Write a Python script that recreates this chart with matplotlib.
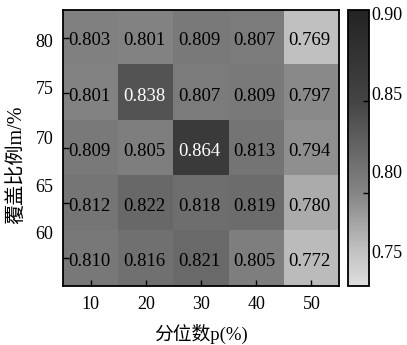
import numpy as np
import matplotlib
matplotlib.use('Agg')
import matplotlib.pyplot as plt
from matplotlib.colors import LinearSegmentedColormap
from matplotlib.transforms import ScaledTranslation

plt.rcParams['font.family'] = ['Liberation Serif', 'Noto Sans CJK SC']

p_labels = ['10', '20', '30', '40', '50']
m_labels = ['80', '75', '70', '65', '60']
row_80 = [0.803, 0.801, 0.809, 0.807, 0.769]
row_75 = [0.801, 0.838, 0.807, 0.809, 0.797]
row_70 = [0.809, 0.805, 0.864, 0.813, 0.794]
row_65 = [0.812, 0.822, 0.818, 0.819, 0.780]
row_60 = [0.810, 0.816, 0.821, 0.805, 0.772]
cbar_ticks = [0.75, 0.80, 0.85, 0.90]

values = np.array([row_80, row_75, row_70, row_65, row_60])

vmin, vmax = 0.749, 0.90
def nrm(v):
    return (v - vmin) / (vmax - vmin)
anchors = [(0.0, 222), (nrm(0.769), 192), (nrm(0.80), 132), (nrm(0.81), 120),
           (nrm(0.85), 68), (1.0, 35)]
cmap = LinearSegmentedColormap.from_list(
    'g', [(a, (g / 255, g / 255, g / 255)) for a, g in anchors])

W, H = 407, 345
fig = plt.figure(figsize=(W / 100, H / 100), dpi=100)
ax = fig.add_axes([63 / W, 59 / H, 276 / W, 276 / H])
cax = fig.add_axes([348 / W, 59 / H, 21 / W, 276 / H])

im = ax.imshow(values, cmap=cmap, vmin=vmin, vmax=vmax, aspect='auto',
               interpolation='nearest')

for i in range(values.shape[0]):
    for j in range(values.shape[1]):
        v = values[i, j]
        ax.text(j - 0.03, i + 0.06, f'{v:.3f}', ha='center', va='center',
                fontsize=13.5, color='white' if v > 0.83 else 'black')

ax.set_xticks(range(len(p_labels)))
ax.set_xticklabels(p_labels)
ax.set_yticks(range(len(m_labels)))
ax.set_yticklabels(m_labels)
ax.tick_params(direction='in', length=4, width=1, labelsize=13, pad=7,
               top=False, right=False)
for s in ax.spines.values():
    s.set_linewidth(1.3)
ax.set_xlabel('分位数p(%)', fontsize=13.5, labelpad=8)
ax.set_ylabel('覆盖比例m/%', fontsize=14.5)
ax.yaxis.set_label_coords(-0.135, 0.44)

cb = fig.colorbar(im, cax=cax, ticks=cbar_ticks)
cb.ax.set_yticklabels([f'{t:.2f}' for t in cbar_ticks])
cb.ax.tick_params(direction='in', length=4, width=1, labelsize=13, pad=2)
cb.outline.set_linewidth(1.3)

# label drift as in the reference (pixels, positive = down)
y_off = [2.5, -5, -10, -18, -26]
for t, off in zip(ax.yaxis.get_major_ticks(), y_off):
    t.label1.set_transform(t.label1.get_transform() +
                           ScaledTranslation(0, -off / 100, fig.dpi_scale_trans))
c_off = [-33, -21, -8, 3]
cticks = cb.ax.yaxis.get_major_ticks()
for t, off in zip(cticks, c_off):
    t.label2.set_transform(t.label2.get_transform() +
                           ScaledTranslation(0, -off / 100, fig.dpi_scale_trans))
cticks[0].tick2line.set_visible(False)
cticks[-1].tick2line.set_visible(False)

fig.savefig('out.png', dpi=100)
